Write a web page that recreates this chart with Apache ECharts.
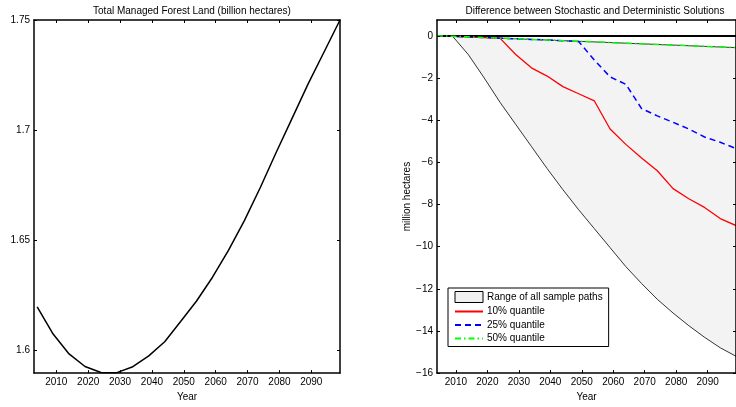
<!DOCTYPE html>
<html>
<head>
<meta charset="utf-8">
<script src="https://cdn.jsdelivr.net/npm/echarts@6/dist/echarts.min.js"></script>
<style>html,body{margin:0;padding:0;background:#fff;}#c{width:736px;height:407px;}</style>
</head>
<body>
<div id="c"></div>
<script>
// ---- data ----
var years = [2004,2009,2014,2019,2024,2029,2034,2039,2044,2049,2054,2059,2064,2069,2074,2079,2084,2089,2094,2099];
// Left: total managed forest land (billion hectares)
var forestLand = [1.6198,1.6075,1.5985,1.5928,1.5901,1.5900,1.5927,1.5976,1.6040,1.6132,1.6225,1.6333,1.6455,1.6590,1.6740,1.6900,1.7055,1.7210,1.7355,1.7500];
// Right: difference stochastic - deterministic (million hectares)
var pathMax = [0,-0.02,-0.05,-0.08,-0.11,-0.14,-0.17,-0.20,-0.23,-0.26,-0.29,-0.32,-0.35,-0.38,-0.41,-0.44,-0.47,-0.50,-0.53,-0.56];
var pathMin = [0,-0.03,-0.90,-2.00,-3.15,-4.20,-5.25,-6.30,-7.30,-8.25,-9.15,-10.05,-10.95,-11.75,-12.50,-13.15,-13.75,-14.30,-14.80,-15.20];
var q10 = [0,-0.02,-0.05,-0.08,-0.11,-0.89,-1.52,-1.91,-2.41,-2.75,-3.09,-4.42,-5.15,-5.80,-6.40,-7.25,-7.73,-8.14,-8.67,-9.00];
var q25 = [0,-0.02,-0.05,-0.08,-0.11,-0.14,-0.17,-0.20,-0.23,-0.27,-1.15,-1.95,-2.30,-3.45,-3.80,-4.10,-4.42,-4.80,-5.05,-5.35];
var q50 = [0,-0.02,-0.05,-0.08,-0.11,-0.14,-0.17,-0.20,-0.23,-0.26,-0.29,-0.32,-0.35,-0.38,-0.41,-0.44,-0.47,-0.50,-0.53,-0.56];
var xTicks = [2010,2020,2030,2040,2050,2060,2070,2080,2090];
var leftYTicks = [1.6,1.65,1.7,1.75];
var rightYTicks = [-16,-14,-12,-10,-8,-6,-4,-2,0];
var titles = ['Total Managed Forest Land (billion hectares)','Difference between Stochastic and Deterministic Solutions'];
var legendNames = ['Range of all sample paths','10% quantile','25% quantile','50% quantile'];

function pairs(ys){ return years.map(function(y,i){ return [y, ys[i]]; }); }

var FONT = 'Liberation Sans, Arial, Helvetica, sans-serif';
var plainFmt = function(v){ return String(v); };
function xAx(grid, pos, min, max, labels){
  return {type:'value', gridIndex:grid, position:pos, min:min, max:max, z:10,
    axisLine:{show:true, onZero:false, lineStyle:{color:'#000', width:1.5}},
    axisTick:{show:true, inside:true, length:3, customValues:xTicks, lineStyle:{color:'#000'}},
    axisLabel:{show:labels, customValues:xTicks, fontSize:10, color:'#000', fontFamily:FONT, margin:4, formatter:plainFmt},
    splitLine:{show:false},
    name: labels ? 'Year' : '', nameLocation:'middle', nameGap:15,
    nameTextStyle:{fontSize:10, color:'#000', fontFamily:FONT}};
}
function yAx(grid, pos, min, max, ticks, labels, fmt, name){
  return {type:'value', gridIndex:grid, position:pos, min:min, max:max, z:10,
    axisLine:{show:true, onZero:false, lineStyle:{color:'#000', width:1.5}},
    axisTick:{show:true, inside:true, length:3, customValues:ticks, lineStyle:{color:'#000'}},
    axisLabel:{show:labels, customValues:ticks, fontSize:10, color:'#000', fontFamily:FONT, margin:4, formatter:fmt},
    splitLine:{show:false},
    name: name || '', nameLocation:'middle', nameGap:21, nameRotate:90,
    nameTextStyle:{fontSize:10, color:'#000', fontFamily:FONT}};
}
var minusFmt = function(v){ return v < 0 ? '\u2212' + Math.abs(v) : String(v); };
var noSym = {color:'rgba(0,0,0,0)', borderWidth:0, opacity:0};

var option = {
  animation:false,
  backgroundColor:'#fff',
  title:[
    {text:titles[0], left:187, top:1, textAlign:'center', textStyle:{fontSize:10, fontWeight:'normal', color:'#000', fontFamily:FONT}},
    {text:titles[1], left:590, top:1, textAlign:'center', textStyle:{fontSize:10, fontWeight:'normal', color:'#000', fontFamily:FONT}}
  ],
  grid:[
    {left:34, top:20, width:306, height:357},
    {left:437, top:20, width:306, height:357}
  ],
  xAxis:[
    xAx(0,'bottom',2003,2099,true),
    xAx(0,'top',2003,2099,false),
    xAx(1,'bottom',2004,2099,true),
    xAx(1,'top',2004,2099,false)
  ],
  yAxis:[
    yAx(0,'left',1.5898,1.75,leftYTicks,true,plainFmt,''),
    yAx(0,'right',1.5898,1.75,leftYTicks,false,plainFmt,''),
    yAx(1,'left',-16,0.75,rightYTicks,true,minusFmt,'million hectares'),
    yAx(1,'right',-16,0.75,rightYTicks,false,minusFmt,'')
  ],
  legend:{
    orient:'vertical', left:448, top:288, z:20,
    padding:[3,6,3,6], itemGap:3.5, itemWidth:28, itemHeight:11,
    borderColor:'#000', borderWidth:1, backgroundColor:'#fff',
    textStyle:{fontSize:10, color:'#000', fontFamily:FONT, padding:[0,0,0,-1]},
    data:[
      {name:legendNames[0], icon:'rect', itemStyle:{color:'#f0f0f0', borderColor:'#000', borderWidth:1}},
      {name:legendNames[1], itemStyle:noSym},
      {name:legendNames[2], itemStyle:noSym},
      {name:legendNames[3], itemStyle:noSym}
    ]
  },
  series:[
    {type:'line', xAxisIndex:0, yAxisIndex:0, data:pairs(forestLand), symbol:'none',
     lineStyle:{color:'#000', width:1.5}, silent:true},
    // range band: gray fill under the upper path, white fill under the lower path
    {type:'line', name:legendNames[0], xAxisIndex:2, yAxisIndex:2, data:pairs(pathMax), symbol:'none',
     lineStyle:{color:'#000', width:0.8}, itemStyle:{color:'#f3f3f3'},
     areaStyle:{color:'#f3f3f3', opacity:1, origin:'start'}, silent:true, z:1,
     markLine:{silent:true, symbol:'none', label:{show:false},
       lineStyle:{color:'#000', width:2, type:'solid'}, data:[{yAxis:0}]}},
    {type:'line', name:'min', xAxisIndex:2, yAxisIndex:2, data:pairs(pathMin), symbol:'none',
     lineStyle:{color:'#000', width:0.8}, areaStyle:{color:'#fff', opacity:1, origin:'start'}, silent:true, z:2},
    {type:'line', name:legendNames[1], xAxisIndex:2, yAxisIndex:2, data:pairs(q10), symbol:'none',
     lineStyle:{color:'#ff0000', width:1.3}, itemStyle:{color:'#ff0000'}, silent:true, z:3},
    {type:'line', name:legendNames[2], xAxisIndex:2, yAxisIndex:2, data:pairs(q25), symbol:'none',
     lineStyle:{color:'#0000ff', width:1.5, type:[6,4]}, itemStyle:{color:'#0000ff'}, silent:true, z:4},
    {type:'line', name:legendNames[3], xAxisIndex:2, yAxisIndex:2, data:pairs(q50), symbol:'none',
     lineStyle:{color:'#00ff00', width:1.5, type:[6,3,1.5,3]}, itemStyle:{color:'#00ff00'}, silent:true, z:5}
  ]
};
var chart = echarts.init(document.getElementById('c'), null, {renderer:'canvas'});
chart.setOption(option);
</script>
</body>
</html>
